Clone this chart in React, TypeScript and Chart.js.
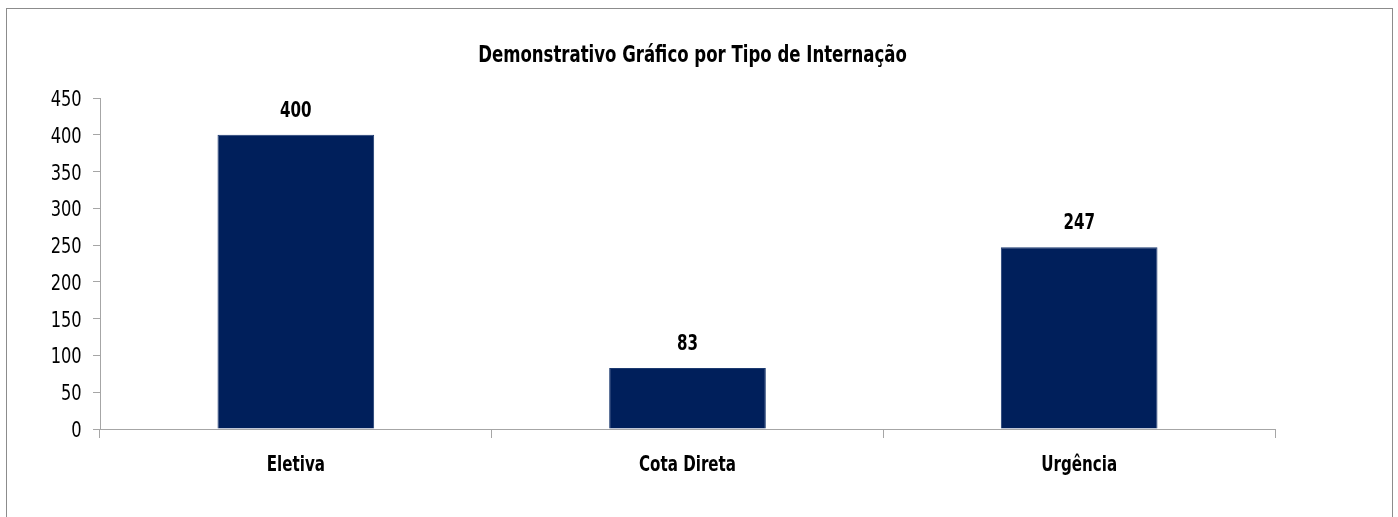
import React, { useEffect, useRef } from "react";
import { Chart, registerables } from "chart.js";

Chart.register(...registerables);

const categories = ["Eletiva", "Cota Direta", "Urgência"];
const values = [400, 83, 247];
const titleText = "Demonstrativo Gráfico por Tipo de Internação";
const yMin = 0;
const yMax = 450;
const yStep = 50;

const FONT = "'Liberation Sans Narrow', 'DejaVu Sans Condensed', 'Arial Narrow', sans-serif";
const AXIS_COLOR = "#a6a6a6";
const SQUEEZE = 0.8;

function drawSqueezed(ctx: any, text: string, x: number, y: number, align: string, squeeze: number) {
  ctx.save();
  ctx.translate(x, y);
  ctx.scale(squeeze, 1);
  ctx.textAlign = align;
  ctx.textBaseline = "alphabetic";
  ctx.fillText(text, 0, 0);
  ctx.restore();
}

const textPlugin = {
  id: "textPlugin",
  afterDraw(chart: any) {
    const ctx = chart.ctx;
    const area = chart.chartArea;
    ctx.save();
    ctx.fillStyle = "#000000";

    // title
    ctx.font = `bold 23px ${FONT}`;
    drawSqueezed(ctx, titleText, (area.left + area.right) / 2 + 5, 62, "center", SQUEEZE);

    // value labels
    ctx.font = `bold 21px ${FONT}`;
    const meta = chart.getDatasetMeta(0);
    meta.data.forEach((bar: any, i: number) => {
      const v = chart.data.datasets[0].data[i];
      drawSqueezed(ctx, String(v), bar.x, bar.y - 18, "center", SQUEEZE);
    });

    // x labels
    const xs = chart.scales.x;
    ctx.font = `bold 21px ${FONT}`;
    chart.data.labels.forEach((lab: string, i: number) => {
      drawSqueezed(ctx, lab, xs.getPixelForValue(i), xs.top + 42, "center", SQUEEZE);
    });

    // y tick labels
    const ys = chart.scales.y;
    ctx.font = `21px ${FONT}`;
    ys.ticks.forEach((t: any) => {
      const py = ys.getPixelForValue(t.value);
      drawSqueezed(ctx, String(t.value), ys.right - 18.3, py + 8, "right", 0.86);
    });
    ctx.restore();
  },
};

export default function App() {
  const canvasRef = useRef<HTMLCanvasElement | null>(null);

  useEffect(() => {
    if (!canvasRef.current) return;
    const chart = new Chart(canvasRef.current, {
      type: "bar",
      data: {
        labels: categories,
        datasets: [
          {
            data: values,
            backgroundColor: "#001f5b",
            borderColor: "#1c3a70",
            borderWidth: 1,
            barPercentage: 0.4,
            categoryPercentage: 1,
          },
        ],
      },
      options: {
        animation: false,
        responsive: true,
        maintainAspectRatio: false,
        layout: { padding: { left: 0, right: 123, top: 98, bottom: 0 } },
        plugins: {
          legend: { display: false },
          tooltip: { enabled: false },
          title: { display: false },
        },
        scales: {
          x: {
            grid: {
              display: true,
              drawOnChartArea: false,
              drawTicks: true,
              tickLength: 9,
              color: AXIS_COLOR,
              offset: true,
            },
            border: { display: true, color: AXIS_COLOR },
            ticks: { display: false },
            afterFit(scale: any) {
              scale.height = 88;
            },
          },
          y: {
            min: yMin,
            max: yMax,
            grid: {
              display: true,
              drawOnChartArea: false,
              drawTicks: true,
              tickLength: 7,
              color: AXIS_COLOR,
            },
            border: { display: true, color: AXIS_COLOR },
            ticks: { display: false, stepSize: yStep },
            afterFit(scale: any) {
              scale.width = 100;
            },
          },
        },
      },
      plugins: [textPlugin],
    });
    return () => chart.destroy();
  }, []);

  return (
    <div style={{ position: "fixed", left: 0, top: 0, width: 1398, height: 517, overflow: "hidden", background: "#ffffff" }}>
      <div
        style={{
          position: "absolute",
          left: 6,
          top: 8,
          width: 1387,
          height: 530,
          border: "1px solid #8c8c8c",
          boxSizing: "border-box",
        }}
      />
      <div style={{ position: "absolute", left: 0, top: 0, width: 1398, height: 517 }}>
        <canvas ref={canvasRef} />
      </div>
    </div>
  );
}
